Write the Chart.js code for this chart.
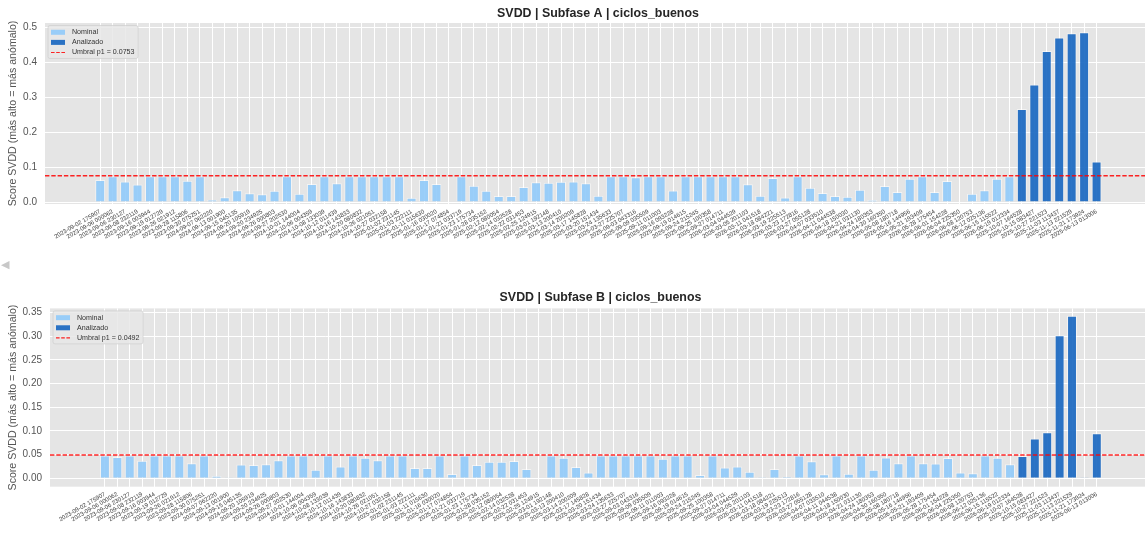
<!DOCTYPE html>
<html>
<head>
<meta charset="utf-8">
<script src="https://cdn.jsdelivr.net/npm/chart.js@4.4.1/dist/chart.umd.min.js"></script>
<style>
  html, body { margin: 0; padding: 0; background: #fff; width: 1145px; height: 533px; overflow: hidden; }
  #wrap { position: relative; width: 1145px; height: 533px; overflow: hidden; }
  canvas { position: absolute; left: 0; }
  #cA { top: 0; }
  #cB { top: 270px; }
  #flecha { position: absolute; left: 1px; top: 259px; font: 11px/1 "DejaVu Sans"; color: #c8c8c8; z-index: 2; }
</style>
</head>
<body>
<div id="wrap">
  <canvas id="cA" width="1151" height="270"></canvas>
  <canvas id="cB" width="1151" height="263"></canvas>
  <div id="flecha">◀</div>
</div>
<script>
// Ciclos evaluados (fecha + hora de cada ciclo)
const etiquetas = [
  "2023-09-02 175907", "2023-09-06 000062", "2023-09-06 230127", "2023-09-08 232119",
  "2023-09-16 003944", "2023-09-19 012729", "2023-09-26 021912", "2023-09-28 115806",
  "2023-09-30 075251", "2024-09-07 062220", "2024-09-13 001900", "2024-09-15 045135",
  "2024-09-20 105919", "2024-09-20 234925", "2024-09-26 000803", "2024-09-27 202530",
  "2024-10-01 144004", "2024-10-06 004359", "2024-10-08 133039", "2024-10-12 011439",
  "2024-10-16 143833", "2024-10-20 080832", "2024-10-26 021051", "2024-10-27 032158",
  "2025-01-02 231145", "2025-01-03 222111", "2025-01-11 015630", "2025-01-16 030020",
  "2025-01-17 074854", "2025-01-21 033719", "2025-01-23 175734", "2025-01-28 035152",
  "2025-02-12 080054", "2025-02-14 032528", "2025-02-22 031453", "2025-02-25 124915",
  "2025-03-01 192148", "2025-03-13 200410", "2025-03-14 200209", "2025-03-17 145828",
  "2025-03-20 151434", "2025-03-24 135633", "2025-03-27 225707", "2025-09-03 043316",
  "2025-09-09 035509", "2025-09-11 011003", "2025-09-16 093228", "2025-09-19 014615",
  "2025-09-24 215245", "2025-09-25 100358", "2025-09-27 014711", "2026-03-04 044529",
  "2026-03-05 201103", "2026-03-11 041518", "2026-03-18 084221", "2026-03-19 225513",
  "2026-03-23 172816", "2026-03-27 055128", "2026-04-07 033510", "2026-04-11 044538",
  "2026-04-18 150030", "2026-04-21 031130", "2026-04-24 180353", "2026-04-30 160350",
  "2026-05-08 180718", "2026-05-16 144956", "2026-05-21 193409", "2026-05-28 175454",
  "2026-06-01 154228", "2026-06-04 225350", "2026-06-08 120753", "2026-06-12 025136",
  "2026-06-15 115522", "2026-06-19 012334", "2025-10-07 164528", "2025-10-15 083427",
  "2025-10-27 221523", "2025-11-03 113437", "2025-11-13 221529", "2025-11-21 173924",
  "2025-06-13 013006"
];

// Score SVDD por ciclo, subfase A
const scoreA = [
  0.063, 0.074, 0.059, 0.050, 0.074, 0.074, 0.074, 0.061, 0.074, 0.0067,
  0.014, 0.034, 0.025, 0.022, 0.032, 0.074, 0.024, 0.052, 0.074, 0.054,
  0.074, 0.074, 0.074, 0.074, 0.074, 0.012, 0.063, 0.052, 0, 0.074,
  0.047, 0.032, 0.017, 0.017, 0.043, 0.057, 0.055, 0.058, 0.059, 0.054,
  0.018, 0.074, 0.074, 0.071, 0.074, 0.074, 0.033, 0.074, 0.074, 0.074,
  0.074, 0.074, 0.051, 0.018, 0.069, 0.013, 0.074, 0.041, 0.026, 0.017,
  0.015, 0.035, 0.006, 0.046, 0.029, 0.067, 0.074, 0.029, 0.060, 0,
  0.024, 0.034, 0.067, 0.074, 0.267, 0.337, 0.433, 0.472, 0.484, 0.487,
  0.116
];

// Score SVDD por ciclo, subfase B
const scoreB = [
  0.048, 0.045, 0.048, 0.037, 0.048, 0.048, 0.048, 0.032, 0.048, 0.0056,
  0.0006, 0.029, 0.028, 0.0295, 0.038, 0.048, 0.048, 0.018, 0.048, 0.025,
  0.048, 0.0436, 0.038, 0.048, 0.048, 0.0218, 0.0218, 0.048, 0.009, 0.048,
  0.028, 0.035, 0.035, 0.0366, 0.0197, 0, 0.048, 0.0436, 0.024, 0.012,
  0.048, 0.048, 0.048, 0.048, 0.048, 0.0415, 0.048, 0.048, 0.007, 0.048,
  0.023, 0.025, 0.014, 0.002, 0.0197, 0.003, 0.048, 0.036, 0.0084, 0.048,
  0.0098, 0.048, 0.018, 0.044, 0.032, 0.048, 0.032, 0.031, 0.043, 0.012,
  0.0105, 0.048, 0.0436, 0.0295, 0.047, 0.0837, 0.097, 0.3017, 0.343, 0.0006,
  0.095
];

// Índices de los ciclos analizados (el resto es nominal)
const analizados = [74, 75, 76, 77, 78, 79, 80];

// Umbrales (percentil 1) de cada subfase
const umbralA = 0.0753;
const umbralB = 0.0492;

// Marcas del eje Y
const ticksA = [0, 0.1, 0.2, 0.3, 0.4, 0.5];
const ticksB = [0, 0.05, 0.10, 0.15, 0.20, 0.25, 0.30, 0.35];

const FUENTE = '"Liberation Sans", Arial, Helvetica, sans-serif';
Chart.defaults.font.family = FUENTE;

const COLOR_NOMINAL = 'rgba(144,202,249,0.9)';
const COLOR_ANALIZADO = 'rgba(21,101,192,0.9)';
const COLOR_UMBRAL = 'rgba(255,0,0,0.85)';
const X_MIN = -4.43, X_MAX = 84.37;

function puntos(scores, analizado) {
  return scores
    .map((v, i) => ({ x: i, y: v }))
    .filter(p => analizados.includes(p.x) === analizado);
}

// Solo hay línea de rejilla vertical en las posiciones de ciclo
function colorRejillaX(c) {
  const v = c.tick ? c.tick.value : NaN;
  return (Number.isInteger(v) && v >= 0 && v < etiquetas.length) ? '#ffffff' : 'rgba(0,0,0,0)';
}

// Leyenda en recuadro, esquina superior izquierda del área de trazado
const leyenda = {
  id: 'leyenda',
  afterDraw(chart, _args, o) {
    if (!o || !o.items) return;
    const { ctx, chartArea: ca } = chart;
    ctx.save();
    ctx.font = '7.1px ' + FUENTE;
    const tw = Math.max(...o.items.map(it => ctx.measureText(it.text).width));
    const x0 = ca.left + 3, y0 = ca.top + 2.5, w = 24 + tw + 3.5, h = 33;
    ctx.beginPath();
    if (ctx.roundRect) ctx.roundRect(x0, y0, w, h, 2); else ctx.rect(x0, y0, w, h);
    ctx.fillStyle = 'rgba(231,231,231,0.85)';
    ctx.fill();
    ctx.strokeStyle = 'rgba(206,206,206,0.9)';
    ctx.lineWidth = 0.8;
    ctx.stroke();
    o.items.forEach((it, k) => {
      const cy = y0 + 6.8 + k * 10.1;
      if (it.kind === 'rect') {
        ctx.fillStyle = it.color;
        ctx.fillRect(x0 + 3, cy - 2.5, 14, 5);
      } else {
        ctx.strokeStyle = it.color;
        ctx.lineWidth = 1.2;
        ctx.setLineDash([3.6, 1.6]);
        ctx.beginPath();
        ctx.moveTo(x0 + 3, cy);
        ctx.lineTo(x0 + 17, cy);
        ctx.stroke();
        ctx.setLineDash([]);
      }
      ctx.fillStyle = '#333';
      ctx.textBaseline = 'middle';
      ctx.textAlign = 'left';
      ctx.fillText(it.text, x0 + 24, cy);
    });
    ctx.restore();
  }
};

function grafico(id, cfg) {
  const dsNominal = {
    label: 'Nominal', data: puntos(cfg.scores, false),
    backgroundColor: COLOR_NOMINAL, borderColor: 'rgba(255,255,255,0.55)', borderWidth: 1,
    grouped: false, categoryPercentage: 0.8, barPercentage: 1, order: 2
  };
  const dsAnalizado = {
    label: 'Analizado', data: puntos(cfg.scores, true),
    backgroundColor: COLOR_ANALIZADO, borderColor: 'rgba(255,255,255,0.55)', borderWidth: 1,
    grouped: false, categoryPercentage: 0.8, barPercentage: 1, order: 2
  };
  const etiquetaUmbral = 'Umbral p1 = ' + cfg.umbral.toFixed(4);
  const dsUmbral = {
    type: 'line', label: etiquetaUmbral,
    data: [{ x: X_MIN, y: cfg.umbral }, { x: X_MAX, y: cfg.umbral }],
    borderColor: COLOR_UMBRAL, borderWidth: 1.3, borderDash: [4.4, 1.9],
    pointRadius: 0, fill: false, order: 0
  };

  return new Chart(document.getElementById(id), {
    type: 'bar',
    data: { datasets: [dsNominal, dsAnalizado, dsUmbral] },
    options: {
      responsive: false,
      animation: false,
      devicePixelRatio: 1,
      events: [],
      layout: { padding: 0 },
      scales: {
        x: {
          type: 'linear', min: X_MIN, max: X_MAX, offset: false,
          afterBuildTicks: s => { s.ticks = etiquetas.map((_, i) => ({ value: i })); },
          afterFit: s => { s.height = cfg.altoX; },
          ticks: {
            autoSkip: false, minRotation: 30, maxRotation: 30, padding: 4,
            color: '#444', font: { size: 6 },
            callback: v => (Number.isInteger(v) ? etiquetas[v] : null)
          },
          grid: { color: colorRejillaX, lineWidth: 1, drawTicks: false, offset: false },
          border: { display: false }
        },
        y: {
          min: cfg.yMin, max: cfg.yMax,
          afterBuildTicks: s => { s.ticks = cfg.ticks.map(v => ({ value: v })); },
          afterFit: s => { s.width = cfg.anchoY; },
          ticks: {
            padding: 8, color: '#555', font: { size: 10 },
            callback: v => v.toFixed(cfg.decimales)
          },
          grid: { color: '#ffffff', lineWidth: 1, drawTicks: false },
          border: { display: false },
          title: {
            display: true, text: 'Score SVDD (más alto = más anómalo)',
            color: '#555', font: { size: 10.6 }, padding: { top: 7, bottom: 0 }
          }
        }
      },
      plugins: {
        legend: { display: false },
        tooltip: { enabled: false },
        title: {
          display: true, text: cfg.titulo, fullSize: false,
          color: '#262626', font: { size: 12.4, weight: 'bold' },
          padding: cfg.padTitulo
        },
        leyenda: {
          items: [
            { kind: 'rect', color: dsNominal.backgroundColor, text: dsNominal.label },
            { kind: 'rect', color: dsAnalizado.backgroundColor, text: dsAnalizado.label },
            { kind: 'line', color: COLOR_UMBRAL, text: etiquetaUmbral }
          ]
        }
      }
    },
    plugins: [{
      id: 'fondo',
      beforeDraw(chart) {
        const { ctx, chartArea: a } = chart;
        ctx.save();
        ctx.fillStyle = '#e5e5e5';
        ctx.fillRect(a.left, a.top, a.right - a.left, a.bottom - a.top);
        ctx.restore();
      }
    }, leyenda]
  });
}

grafico('cA', {
  titulo: 'SVDD | Subfase A | ciclos_buenos',
  scores: scoreA, umbral: umbralA, ticks: ticksA, decimales: 1,
  yMin: -0.0057, yMax: 0.5135, anchoY: 45, altoX: 66,
  padTitulo: { top: 5.9, bottom: 2.2 }
});

grafico('cB', {
  titulo: 'SVDD | Subfase B | ciclos_buenos',
  scores: scoreB, umbral: umbralB, ticks: ticksB, decimales: 2,
  yMin: -0.0177, yMax: 0.3584, anchoY: 50, altoX: 46.3,
  padTitulo: { top: 19.9, bottom: 3.6 }
});
</script>
</body>
</html>
